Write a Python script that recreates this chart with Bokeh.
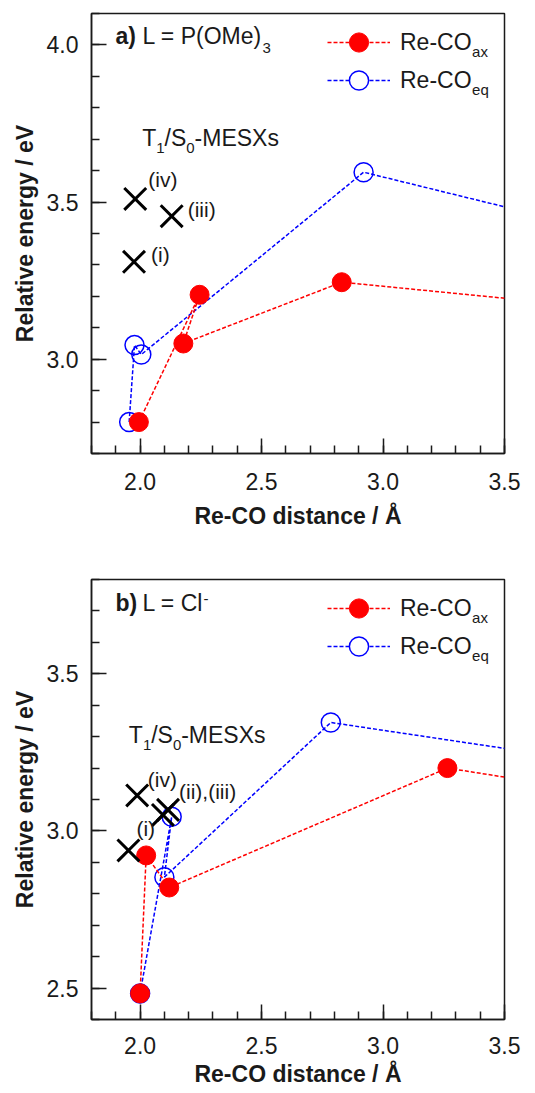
from bokeh.plotting import figure
from bokeh.layouts import column
from bokeh.models import (Range1d, SingleIntervalTicker, PrintfTickFormatter, Label,
                          Legend, LegendItem)
from bokeh.embed import file_html
from bokeh.resources import INLINE

FONT = "Liberation Sans"

# ---------------- data: panel a) L = P(OMe)3 ----------------
a_ax_x = [1.995, 2.245, 2.178, 2.83, 4.0]
a_ax_y = [2.80, 3.205, 3.05, 3.245, 3.156]
a_eq_x = [1.955, 1.977, 2.005, 2.92, 4.0]
a_eq_y = [2.80, 3.045, 3.015, 3.595, 3.39]
a_mesx_x = [1.98, 2.13, 1.975]
a_mesx_y = [3.51, 3.455, 3.31]
a_mesx_labels = ["(iv)", "(iii)", "(i)"]

# ---------------- data: panel b) L = Cl- ----------------
b_ax_x = [2.0, 2.025, 2.12, 3.265, 4.0]
b_ax_y = [2.483, 2.922, 2.82, 3.20, 3.11]
b_eq_x = [2.0, 2.13, 2.10, 2.785, 4.0]
b_eq_y = [2.483, 3.045, 2.853, 3.345, 3.205]
b_mesx_x = [1.988, 2.094, 2.115, 1.952]
b_mesx_y = [3.113, 3.051, 3.067, 2.938]
b_mesx_labels = ["(iv)", "", "(ii),(iii)", "(i)"]

tick_interval = 0.5
series_names = ["Re-CO", "Re-CO"]
series_subs = ["ax", "eq"]

RED = "#ff0000"
BLUE = "#0000ff"
INK = "#1a1a1a"

FRAME_W = 413
FRAME_H = 440


def make_panel(height, border_top, border_bottom, yr, x_std, xl_std):
    p = figure(width=527, height=height, x_range=Range1d(1.8, 3.5), y_range=Range1d(*yr),
               output_backend="svg", toolbar_location=None,
               min_border_left=91, min_border_right=23,
               min_border_top=border_top, min_border_bottom=border_bottom)
    p.grid.visible = False
    p.outline_line_color = INK
    p.outline_line_width = 1.5
    p.outline_line_alpha = 1.0
    for ax in (p.xaxis[0], p.yaxis[0]):
        ax.ticker = SingleIntervalTicker(interval=tick_interval, num_minor_ticks=5)
        ax.formatter = PrintfTickFormatter(format="%.1f")
        ax.major_tick_in = 15
        ax.major_tick_out = 0
        ax.minor_tick_in = 8
        ax.minor_tick_out = 0
        ax.axis_line_color = INK
        ax.axis_line_width = 1.5
        ax.major_tick_line_color = INK
        ax.major_tick_line_width = 1.5
        ax.minor_tick_line_color = INK
        ax.minor_tick_line_width = 1.5
        ax.major_label_text_font = FONT
        ax.major_label_text_font_size = "23px"
        ax.major_label_text_color = INK
        ax.axis_label_text_font = FONT
        ax.axis_label_text_font_size = "23px"
        ax.axis_label_text_font_style = "bold"
        ax.axis_label_text_color = INK
    p.xaxis.axis_label = "Re-CO distance / Å"
    p.yaxis.axis_label = "Relative energy / eV"
    p.xaxis.major_label_standoff = x_std
    p.xaxis.axis_label_standoff = xl_std
    p.yaxis.major_label_standoff = 13
    p.yaxis.axis_label_standoff = 6
    return p


def pos(p, dx, dy):
    """pixel offset from frame top-left -> data coordinates"""
    xr, yr = p.x_range, p.y_range
    return (xr.start + dx / FRAME_W * (xr.end - xr.start),
            yr.end - dy / FRAME_H * (yr.end - yr.start))


def txt(p, dx, dy, text, size, bold=False):
    x, y = pos(p, dx, dy - 0.4 * size)
    p.add_layout(Label(x=x, y=y, text=text, text_font=FONT, text_font_size=f"{size}px",
                       text_font_style="bold" if bold else "normal", text_color=INK,
                       text_baseline="alphabetic", text_align="left"))


def txt_near(p, x, y, ddx, ddy, text, size):
    xr, yr = p.x_range, p.y_range
    X = x + ddx / FRAME_W * (xr.end - xr.start)
    Y = y - (ddy - 0.4 * size) / FRAME_H * (yr.end - yr.start)
    p.add_layout(Label(x=X, y=Y, text=text, text_font=FONT, text_font_size=f"{size}px",
                       text_color=INK, text_baseline="alphabetic", text_align="left"))


def draw_series(p, ax_x, ax_y, eq_x, eq_y, mx, my, mlabels, moffs):
    eq_line = p.line(eq_x, eq_y, line_color=BLUE, line_width=1.5, line_dash="4 2")
    p.scatter(eq_x, eq_y, marker="circle", size=19, fill_color=None, line_color=BLUE,
              line_width=1.5)
    ax_line = p.line(ax_x, ax_y, line_color=RED, line_width=1.5, line_dash="4 2")
    ax_pts = p.scatter(ax_x, ax_y, marker="circle", size=19, fill_color=RED, line_color=RED,
                       line_width=1)
    p.scatter(mx, my, marker="x", size=31, line_color="black", line_width=3)
    for x, y, t, off in zip(mx, my, mlabels, moffs):
        if t:
            txt_near(p, x, y, off[0], off[1], t, 21)
    # legend key for the open circles: white-filled, not shown in the plot itself
    eq_key = p.scatter(eq_x, eq_y, marker="circle", size=19, fill_color="white",
                       line_color=BLUE, line_width=1.5, visible=False)
    common = dict(glyph_width=63, glyph_height=48, spacing=0, padding=0, margin=0,
                  label_standoff=10, border_line_alpha=0, background_fill_alpha=0,
                  inactive_fill_alpha=0, label_text_font=FONT,
                  label_text_font_size="23px", label_text_color=INK)
    p.add_layout(Legend(items=[LegendItem(label=series_names[0],
                                          renderers=[ax_line, ax_pts])],
                        location=(236, 387), **common))
    p.add_layout(Legend(items=[LegendItem(label=series_names[1],
                                          renderers=[eq_line, eq_key])],
                        location=(236, 349), **common))
    txt(p, 380.6, 43.5, series_subs[0], 15)
    txt(p, 380.6, 81.5, series_subs[1], 15)


# ---------------- panel a ----------------
pa = make_panel(534, 13, 81, (2.7, 4.1), 19, 10)
draw_series(pa, a_ax_x, a_ax_y, a_eq_x, a_eq_y, a_mesx_x, a_mesx_y, a_mesx_labels,
            [(13, -11), (16, 2), (17, 1.5)])
txt(pa, 24, 32, "a)", 23, bold=True)
txt(pa, 51, 32, "L = P(OMe)", 23)
txt(pa, 171, 40, "3", 15)
txt(pa, 50.7, 133.7, "T", 23)
txt(pa, 64.8, 140.2, "1", 15)
txt(pa, 73.1, 133.7, "/S", 23)
txt(pa, 94.8, 140.2, "0", 15)
txt(pa, 103.1, 133.7, "-MESXs", 23)

# ---------------- panel b ----------------
pb = make_panel(558, 45, 73, (2.4, 3.8), 17, 4)
draw_series(pb, b_ax_x, b_ax_y, b_eq_x, b_eq_y, b_mesx_x, b_mesx_y, b_mesx_labels,
            [(10.7, -8), (0, 0), (11, -10), (8, -14)])
txt(pb, 24, 33, "b)", 23, bold=True)
txt(pb, 51, 33, "L = Cl", 23)
txt(pb, 112, 25, "-", 15)
txt(pb, 37.3, 165, "T", 23)
txt(pb, 51.4, 171.5, "1", 15)
txt(pb, 59.7, 165, "/S", 23)
txt(pb, 81.4, 171.5, "0", 15)
txt(pb, 89.7, 165, "-MESXs", 23)

layout = column(pa, pb, spacing=0)
open("out.html", "w").write(file_html(layout, INLINE))
